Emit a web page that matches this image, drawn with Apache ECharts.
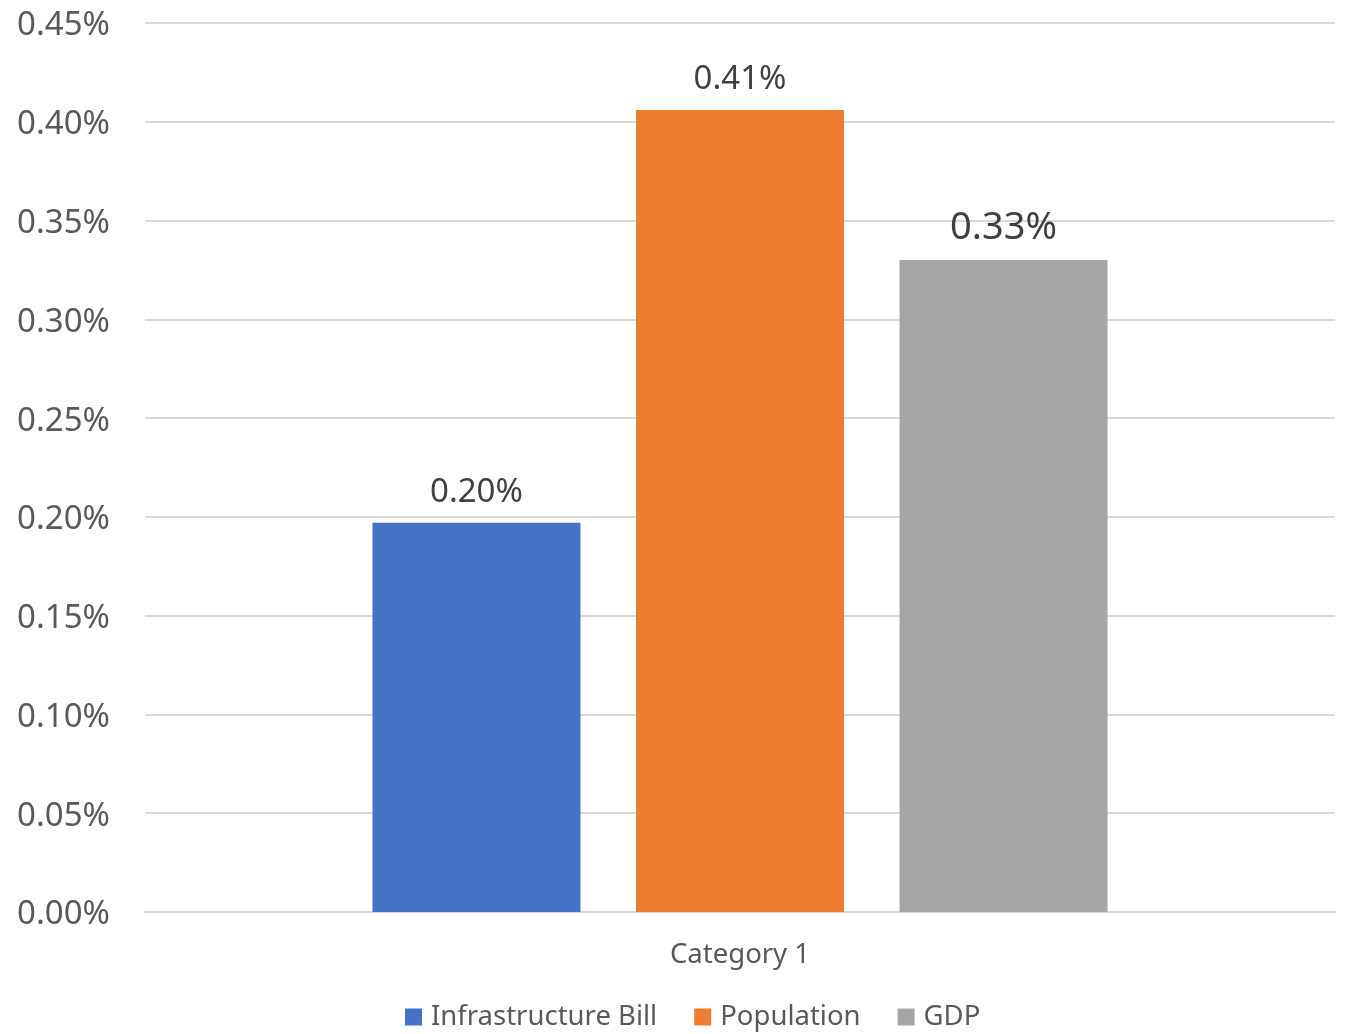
<!DOCTYPE html>
<html>
<head>
<meta charset="utf-8">
<script src="https://cdn.jsdelivr.net/npm/echarts@6/dist/echarts.min.js"></script>
<style>
  html, body { margin: 0; padding: 0; background: #fff; }
  #chart { width: 1348px; height: 1034px; }
</style>
</head>
<body>
<div id="chart"></div>
<script>
// Share values are in percent units (0.41 means 0.41%)
const categories = ['Category 1'];
const seriesNames = ['Infrastructure Bill', 'Population', 'GDP'];
const infrastructureBill = [0.197];
const population = [0.406];
const gdp = [0.330];
const seriesColors = ['#4472C4', '#ED7D31', '#A5A5A5'];
const labelSizes = [33, 33, 38];
const labelDistances = [14, 14, 13];

const FONT = '"Noto Sans", sans-serif';
const seriesValues = [infrastructureBill, population, gdp];

const chart = echarts.init(document.getElementById('chart'), null, { renderer: 'canvas' });

chart.setOption({
  animation: false,
  backgroundColor: '#ffffff',
  textStyle: { fontFamily: FONT },
  grid: { left: 145, right: 13, top: 23, bottom: 122, containLabel: false },
  legend: {
    bottom: -2,
    left: 400,
    itemWidth: 17,
    itemHeight: 17,
    itemGap: 37,
    icon: 'rect',
    textStyle: { color: '#595959', fontSize: 27.5, fontFamily: FONT, padding: [0, 0, 0, 4] },
    data: seriesNames
  },
  xAxis: {
    type: 'category',
    data: categories,
    axisLine: { show: true, lineStyle: { color: '#D9D9D9', width: 2 } },
    axisTick: { show: false },
    axisLabel: { color: '#595959', fontSize: 27.5, fontFamily: FONT, margin: 29 }
  },
  yAxis: {
    type: 'value',
    min: 0,
    max: 0.45,
    interval: 0.05,
    axisLine: { show: false },
    axisTick: { show: false },
    splitLine: { lineStyle: { color: '#D9D9D9', width: 2 } },
    axisLabel: {
      margin: 35,
      formatter: v => '{t|' + v.toFixed(2) + '%}',
      rich: {
        t: { color: '#595959', fontSize: 33, fontFamily: FONT, padding: [6, 0, 0, 0] }
      }
    }
  },
  series: seriesNames.map((name, i) => ({
    name,
    type: 'bar',
    data: seriesValues[i],
    barWidth: 208,
    barGap: '26.7%',
    itemStyle: { color: seriesColors[i] },
    label: {
      show: true,
      position: 'top',
      distance: labelDistances[i],
      color: '#404040',
      fontSize: labelSizes[i],
      fontFamily: FONT,
      formatter: p => p.value.toFixed(2) + '%'
    }
  }))
});
</script>
</body>
</html>
